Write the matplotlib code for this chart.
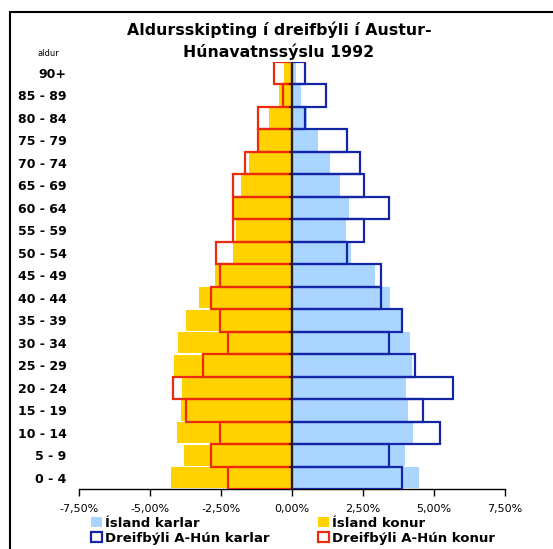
import numpy as np
import matplotlib
matplotlib.use('Agg')
import matplotlib.pyplot as plt
from matplotlib.patches import Patch, Rectangle

# age groups, bottom to top
aldur = ['0 - 4', '5 - 9', '10 - 14', '15 - 19', '20 - 24', '25 - 29', '30 - 34',
         '35 - 39', '40 - 44', '45 - 49', '50 - 54', '55 - 59', '60 - 64',
         '65 - 69', '70 - 74', '75 - 79', '80 - 84', '85 - 89', '90+']

# percent of population
island_karlar = [4.46, 3.98, 4.27, 4.07, 4.00, 4.23, 4.14, 3.90, 3.46, 2.91,
                 2.09, 1.91, 2.01, 1.68, 1.35, 0.92, 0.54, 0.31, 0.14]
island_konur = [4.25, 3.81, 4.05, 3.91, 3.88, 4.14, 4.01, 3.74, 3.29, 2.70,
                2.08, 1.98, 2.08, 1.78, 1.53, 1.17, 0.82, 0.47, 0.28]
dreif_karlar = [3.87, 3.43, 5.22, 4.61, 5.66, 4.33, 3.43, 3.86, 3.12, 3.15,
                1.94, 2.52, 3.43, 2.52, 2.39, 1.94, 0.45, 1.21, 0.45]
dreif_konur = [2.24, 2.84, 2.54, 3.73, 4.18, 3.15, 2.24, 2.55, 2.84, 2.54,
               2.68, 2.09, 2.09, 2.09, 1.64, 1.20, 1.20, 0.31, 0.62]

xticks = [-7.5, -5.0, -2.5, 0.0, 2.5, 5.0, 7.5]

c_blue_fill = '#a9d5ff'
c_yellow = '#ffd200'
c_blue_edge = '#1426a6'
c_red_edge = '#ec2a0c'

W, H = 553, 549
fig = plt.figure(figsize=(W / 100, H / 100), dpi=100)
ax = fig.add_axes([79 / W, 1 - 489 / H, 426 / W, (489 - 61.5) / H])

y = np.arange(len(aldur))
ax.barh(y, -np.array(island_konur), height=0.92, color=c_yellow, zorder=2)
ax.barh(y, island_karlar, height=0.92, color=c_blue_fill, zorder=2)
ax.barh(y, -np.array(dreif_konur), height=1.0, fill=False,
        edgecolor=c_red_edge, linewidth=1.6, zorder=3)
ax.barh(y, dreif_karlar, height=1.0, fill=False,
        edgecolor=c_blue_edge, linewidth=1.6, zorder=3)

# centre axis line with small ticks between categories
ax.axvline(0, color='#2a1a10', linewidth=1.3, zorder=4)
ax.hlines(y[:-1] + 0.5, -0.12, 0, color='#2a1a10', linewidth=1.2, zorder=4)

ax.set_xlim(-7.5, 7.5)
ax.set_ylim(-0.5, len(aldur) - 0.5)
for s in ['top', 'right', 'left']:
    ax.spines[s].set_visible(False)
ax.spines['bottom'].set_linewidth(1.0)
ax.set_xticks(xticks)
ax.set_xticklabels([f'{v:.2f}%'.replace('.', ',') for v in xticks], fontsize=8)
ax.tick_params(axis='x', length=5, width=1, pad=6)
ax.set_yticks(y)
ax.set_yticklabels(aldur, fontsize=9, fontweight='bold')
ax.tick_params(axis='y', length=0, pad=9)

fig.text(279 / W, 1 - 41 / H, 'Aldursskipting í dreifbýli í Austur-\nHúnavatnssýslu 1992',
         ha='center', va='center', fontsize=11.3, fontweight='bold', linespacing=1.42)
fig.text(48 / W, 1 - 53 / H, 'aldur', ha='center', va='center', fontsize=6)

handles = [Patch(facecolor=c_blue_fill, edgecolor='none', label='Ísland karlar'),
           Patch(facecolor='white', edgecolor=c_blue_edge, linewidth=1.6,
                 label='Dreifbýli A-Hún karlar'),
           Patch(facecolor=c_yellow, edgecolor='none', label='Ísland konur'),
           Patch(facecolor='white', edgecolor=c_red_edge, linewidth=1.6,
                 label='Dreifbýli A-Hún konur')]
fig.legend(handles=handles, ncol=2, loc='upper left', bbox_to_anchor=(91 / W, 1 - 517 / H),
           frameon=False, prop={'size': 9.5, 'weight': 'bold'}, handlelength=0.8,
           handleheight=0.8, handletextpad=0.25, columnspacing=3.7, labelspacing=0.12,
           borderpad=0, borderaxespad=0)

fig.patches.append(Rectangle((10 / W, -0.1), 1.2, 1 - 12 / H + 0.1,
                             transform=fig.transFigure, fill=False,
                             edgecolor='black', linewidth=1.5))

fig.savefig('out.png', dpi=100)
